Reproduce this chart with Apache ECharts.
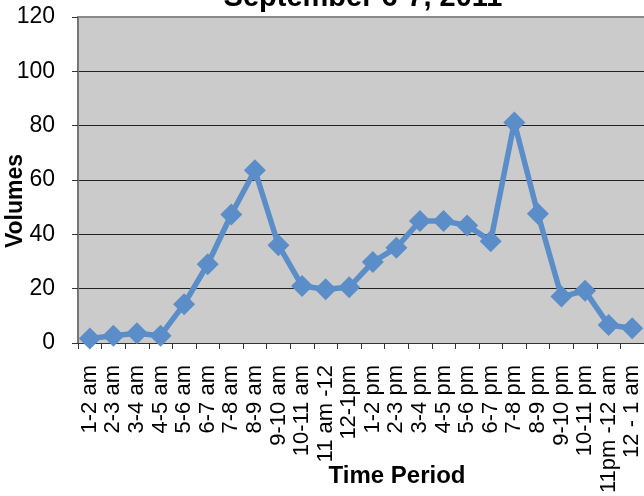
<!DOCTYPE html>
<html><head><meta charset="utf-8">
<script src="https://cdn.jsdelivr.net/npm/echarts@6/dist/echarts.min.js"></script>
<style>html,body{margin:0;padding:0;background:#fff}#c{width:644px;height:496px}</style>
</head><body><div id="c"></div>
<script>
const categories = ['1-2 am','2-3 am','3-4 am','4-5 am','5-6 am','6-7 am','7-8 am','8-9 am','9-10 am','10-11 am','11 am -12','12-1pm','1-2 pm','2-3 pm','3-4 pm','4-5 pm','5-6 pm','6-7 pm','7-8 pm','8-9 pm','9-10 pm','10-11 pm','11pm -12 am','12 - 1 am'];
const volumes = [1.7, 2.7, 3.6, 2.7, 14.3, 29, 47.3, 63.6, 36, 21, 19.8, 20.5, 29.8, 35.1, 44.9, 44.9, 43.3, 37.5, 81.2, 47.6, 17.1, 19.2, 6.6, 5.4];
const yTicks = {min: 0, max: 120, interval: 20};
const titleText = 'September 6-7, 2011';
const xName = 'Time Period';
const yName = 'Volumes';

const chart = echarts.init(document.getElementById('c'), null, {renderer: 'canvas'});
const font = '"Liberation Sans", Arial, sans-serif';
chart.setOption({
  animation: false,
  grid: {left: 78, top: 17, width: 571, height: 327, show: true, backgroundColor: '#cbcbcb', borderWidth: 0, containLabel: false},
  xAxis: [{type: 'category', data: categories, boundaryGap: true,
    axisLine: {lineStyle: {color: '#333', width: 1}},
    axisTick: {show: true, interval: 0, length: 6, lineStyle: {color: '#333'}},
    axisLabel: {interval: 0, rotate: 90, fontFamily: font, fontSize: 22, color: '#000', margin: 22}},
    {type: 'category', data: categories, position: 'top', boundaryGap: true,
    axisLine: {show: true, lineStyle: {color: '#8a8a8a', width: 2}},
    axisTick: {show: false}, axisLabel: {show: false}, splitLine: {show: false}}],
  yAxis: {type: 'value', min: yTicks.min, max: yTicks.max, interval: yTicks.interval,
    axisLine: {show: true, lineStyle: {color: '#777', width: 2}},
    axisTick: {show: true, length: 6, lineStyle: {color: '#333'}},
    splitLine: {show: true, lineStyle: {color: '#222', width: 1}},
    axisLabel: {fontFamily: font, fontSize: 23, color: '#000', margin: 23}},
  graphic: [
    {type: 'text', x: 363, y: -2, style: {text: titleText, align: 'center', verticalAlign: 'middle', font: 'bold 29px ' + font, fill: '#000'}},
    {type: 'text', x: 16, y: 201, rotation: Math.PI/2, style: {text: yName, align: 'center', verticalAlign: 'middle', font: 'bold 23px ' + font, fill: '#000'}},
    {type: 'text', x: 397, y: 476, style: {text: xName, align: 'center', verticalAlign: 'middle', font: 'bold 24px ' + font, fill: '#000'}}
  ],
  series: [{type: 'line', data: volumes, symbol: 'diamond', symbolSize: 22,
    lineStyle: {color: '#5b8ec8', width: 5.5},
    itemStyle: {color: '#5b8ec8'}}]
});
</script></body></html>
